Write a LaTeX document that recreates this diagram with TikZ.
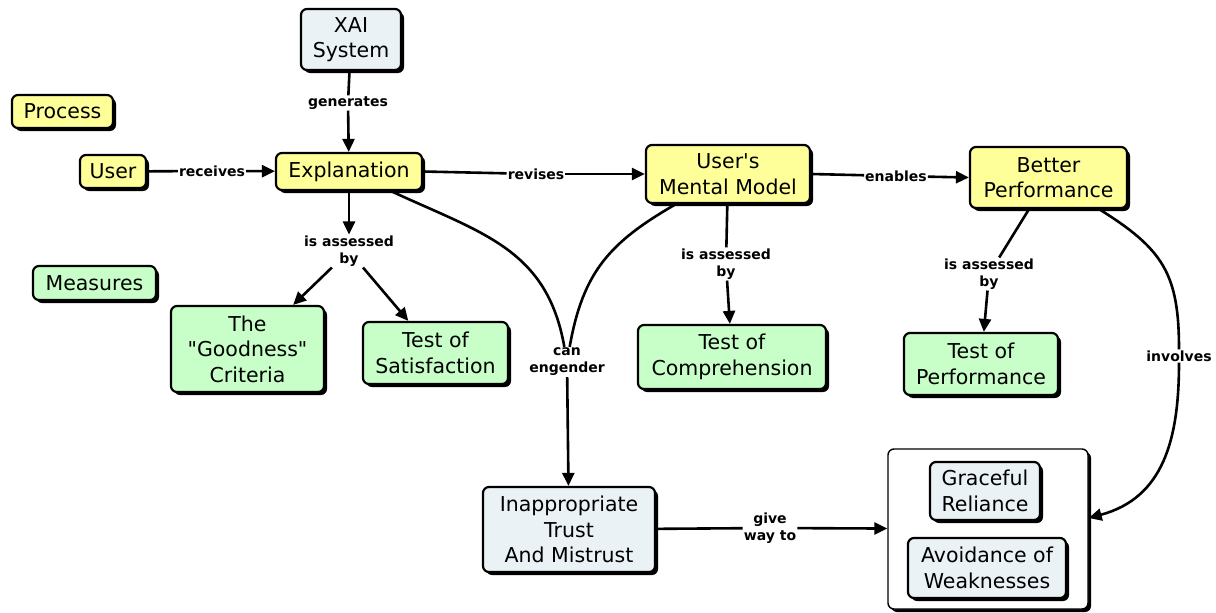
\documentclass[tikz,border=0pt]{standalone}
\usepackage{fontspec}
\setmainfont{DejaVu Sans}[Ligatures=TeXOff]
\usetikzlibrary{arrows.meta,shadows,calc}
\definecolor{cyel}{RGB}{255,255,153}
\definecolor{cgrn}{RGB}{200,255,200}
\definecolor{cblu}{RGB}{234,242,246}
\tikzset{
  concept/.style={draw=black, line width=2.2pt, rounded corners=6pt, align=center, inner sep=0pt,
    font=\fontsize{20.5}{25.5}\selectfont,
    drop shadow={shadow xshift=3pt, shadow yshift=-3pt, opacity=1, fill=black}},
  yel/.style={concept, fill=cyel},
  grn/.style={concept, fill=cgrn},
  blu/.style={concept, fill=cblu},
  lab/.style={fill=white, inner sep=1pt, align=center, font=\bfseries\fontsize{14}{17}\selectfont},
  link/.style={line width=2.6pt, draw=black},
  arr/.style={link, -{Triangle[length=13pt,width=12pt]}},
}
\begin{document}
\begin{tikzpicture}[x=1pt,y=-1pt]
\useasboundingbox (0,0) rectangle (1216,613);
% concepts
\node[blu, minimum width=100pt, minimum height=61pt] (xai) at (351,39.5) {XAI\\System};
\node[yel, minimum width=101pt, minimum height=33pt] (process) at (62.5,111.5) {Process};
\node[yel, minimum width=66pt, minimum height=33pt] (user) at (113,171.5) {User};
\node[yel, minimum width=146pt, minimum height=37pt] (expl) at (349,171.5) {Explanation};
\node[yel, minimum width=164pt, minimum height=58pt] (mm) at (728,174) {User's\\Mental Model};
\node[yel, minimum width=157pt, minimum height=61pt] (bp) at (1048.5,177.5) {Better\\Performance};
\node[grn, minimum width=123pt, minimum height=34pt] (measures) at (94.5,283) {Measures};
\node[grn, minimum width=153pt, minimum height=86pt] (good) at (247.5,349) {The\\"Goodness"\\Criteria};
\node[grn, minimum width=145pt, minimum height=62pt] (sat) at (435.5,353) {Test of\\Satisfaction};
\node[grn, minimum width=188pt, minimum height=64pt] (comp) at (732,357) {Test of\\Comprehension};
\node[grn, minimum width=154pt, minimum height=62pt] (perf) at (981,364) {Test of\\Performance};
\node[blu, minimum width=172pt, minimum height=85pt] (trust) at (569,529.5) {Inappropriate\\Trust\\And Mistrust};
\node[concept, fill=white, line width=1.4pt, minimum width=200pt, minimum height=160pt] (cont) at (988,529) {};
\node[blu, minimum width=110pt, minimum height=58pt] (grace) at (985,491) {Graceful\\Reliance};
\node[blu, minimum width=158pt, minimum height=60pt] (avoid) at (987,568) {Avoidance of\\Weaknesses};
% linking phrases
\node[lab] (gen) at (348,103) {generates};
\node[lab] (rec) at (212,171) {receives};
\node[lab] (rev) at (536,174) {revises};
\node[lab] (ena) at (896,176) {enables};
\node[lab] (ia1) at (349,251) {is assessed\\by};
\node[lab] (ia2) at (726,264) {is assessed\\by};
\node[lab] (ia3) at (989,274) {is assessed\\by};
\node[lab] (can) at (567,362) {can\\engender};
\node[lab] (inv) at (1179,356) {involves};
\node[lab] (give) at (770,528) {give\\way to};
% connectors
\draw[link] (xai) -- (gen);
\draw[arr] (gen) -- (expl);
\draw[link] (user) -- (rec);
\draw[arr] (rec) -- (expl);
\draw[link] (expl.east) -- (rev);
\draw[arr] (rev) -- (mm.west);
\draw[link] (mm.east) -- (ena);
\draw[arr] (ena) -- (bp.west);
\draw[arr] (expl) -- (ia1);
\draw[arr] (ia1) -- (good);
\draw[arr] (ia1) -- (sat);
\draw[link] (mm) -- (ia2);
\draw[arr] (ia2) -- (comp);
\draw[link] (bp) -- (ia3);
\draw[arr] (ia3) -- (perf);
\draw[link] (expl) to[out=-25, in=100, looseness=1.1] (can);
\draw[link] (mm) to[out=-150, in=80, looseness=1.1] (can);
\draw[arr] (can) -- (trust);
\draw[link] (bp) to[out=-32, in=90, looseness=1.2] (inv);
\draw[arr] (inv) to[out=-90, in=15, looseness=1.1] ($(cont.east)+(0,-11)$);
\draw[link] (trust) -- (give);
\draw[arr] (give) -- (cont);
\end{tikzpicture}
\end{document}
